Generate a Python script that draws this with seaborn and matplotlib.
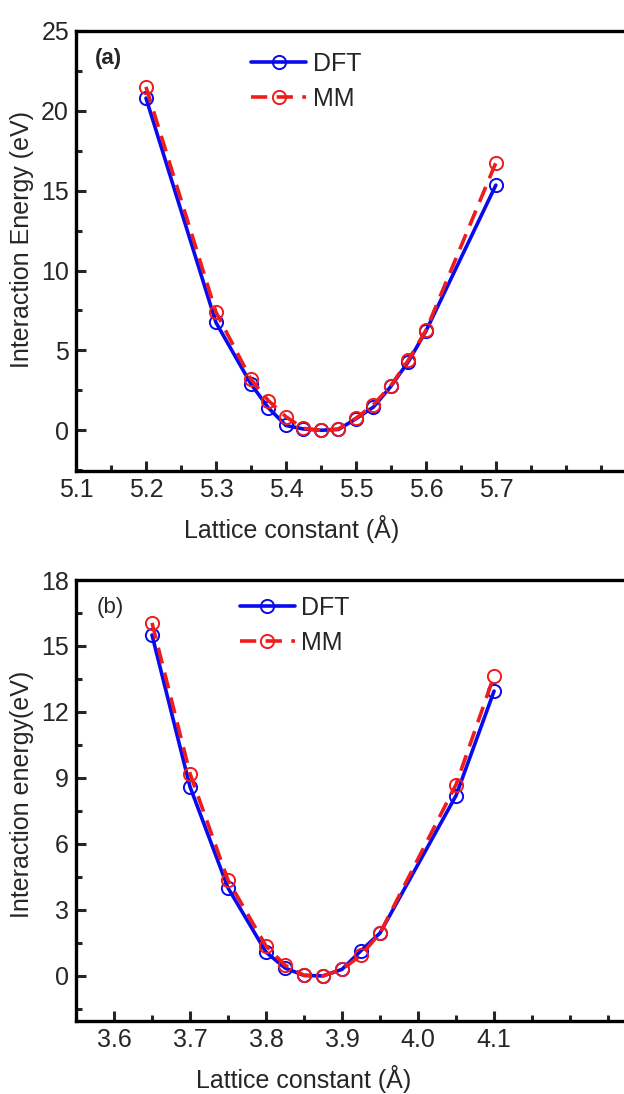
import numpy as np
import pandas as pd
import matplotlib
matplotlib.use("Agg")
import matplotlib.pyplot as plt
from matplotlib.ticker import MultipleLocator
import seaborn as sns

# Panel (a): lattice constant scan
lat_a = [5.2, 5.3, 5.35, 5.375, 5.4, 5.425, 5.45, 5.475, 5.5, 5.525, 5.55, 5.575, 5.6, 5.7]
dft_a = [20.8, 6.75, 2.9, 1.4, 0.3, 0.08, 0.0, 0.05, 0.72, 1.45, 2.75, 4.3, 6.2, 15.35]
mm_a = [21.5, 7.4, 3.2, 1.85, 0.85, 0.12, 0.0, 0.08, 0.75, 1.6, 2.8, 4.4, 6.25, 16.75]

# Panel (b): lattice constant scan
lat_b = [3.65, 3.7, 3.75, 3.8, 3.825, 3.85, 3.875, 3.9, 3.925, 3.95, 4.05, 4.1]
dft_b = [15.5, 8.6, 4.0, 1.08, 0.36, 0.02, 0.0, 0.3, 1.15, 1.95, 8.2, 12.95]
mm_b = [16.05, 9.2, 4.35, 1.36, 0.49, 0.03, 0.0, 0.3, 0.94, 1.95, 8.7, 13.65]

xticks_a = ["5.1", "5.2", "5.3", "5.4", "5.5", "5.6", "5.7"]
xticks_b = ["3.6", "3.7", "3.8", "3.9", "4.0", "4.1"]
series_names = ["DFT", "MM"]
BLUE = "#0a0aee"
RED = "#ee1c1c"

sns.set_style("ticks")
plt.rcParams["font.family"] = ["Liberation Sans", "DejaVu Sans"]
plt.rcParams["axes.linewidth"] = 2.2
FS = 18

fig = plt.figure(figsize=(6.24, 10.94), dpi=100)
W, H = 624, 1094
ax_a = fig.add_axes([76 / W, (H - 471) / H, 564 / W, 440 / H])
ax_b = fig.add_axes([76 / W, (H - 1021) / H, 564 / W, 441 / H])


def draw(ax, x, dft, mm):
    sns.lineplot(x=x, y=dft, ax=ax, color=BLUE, linewidth=2.6, marker="o",
                 markersize=9.5, markerfacecolor="none", markeredgecolor=BLUE,
                 markeredgewidth=1.4, label=series_names[0], sort=False,
                 estimator=None)
    sns.lineplot(x=x, y=mm, ax=ax, color=RED, linewidth=2.6, marker="o",
                 markersize=9.5, markerfacecolor="none", markeredgecolor=RED,
                 markeredgewidth=1.4, label=series_names[1], sort=False,
                 estimator=None, dashes=False)
    ax.lines[1].set_dashes((4.5, 2.6))


def style(ax, xlim, ylim, xmaj, xmin, ymaj, ymin, ylabel, xl_pos, yl_pos):
    ax.set_xlim(*xlim)
    ax.set_ylim(*ylim)
    ax.xaxis.set_major_locator(MultipleLocator(xmaj))
    ax.xaxis.set_minor_locator(MultipleLocator(xmin))
    ax.yaxis.set_major_locator(MultipleLocator(ymaj))
    ax.yaxis.set_minor_locator(MultipleLocator(ymin))
    ax.tick_params(which="both", direction="in", width=2.2, labelsize=FS,
                   top=False, right=False, pad=5)
    ax.tick_params(which="major", length=7)
    ax.tick_params(which="minor", length=4)
    ax.set_xlabel("Lattice constant (Å)", fontsize=FS)
    ax.set_ylabel(ylabel, fontsize=FS)
    ax.xaxis.set_label_coords(*xl_pos)
    ax.yaxis.set_label_coords(*yl_pos)
    for s in ax.spines.values():
        s.set_visible(True)
        s.set_linewidth(2.4)
        s.set_color("black")


def legend(ax, anchor):
    ax.legend(loc="upper left", bbox_to_anchor=anchor, frameon=False,
              fontsize=FS, handlelength=2.2, handletextpad=0.25,
              labelspacing=0.42, borderaxespad=0)


draw(ax_a, lat_a, dft_a, mm_a)
style(ax_a, (5.1, 5.906), (-2.55, 25), 0.1, 0.05, 5, 2.5,
      "Interaction Energy (eV)", (0.383, -0.1), (-0.074, 0.525))
ax_a.set_xticks([float(t) for t in xticks_a])
ax_a.set_xticklabels(xticks_a)
ax_a.text(0.033, 0.962, "(a)", transform=ax_a.transAxes, fontsize=16,
          fontweight="bold", va="top", ha="left")
legend(ax_a, (0.293, 0.975))

draw(ax_b, lat_b, dft_b, mm_b)
style(ax_b, (3.55, 4.292), (-2.05, 18), 0.1, 0.05, 3, 1.5,
      "Interaction energy(eV)", (0.404, -0.1), (-0.074, 0.515))
ax_b.set_xticks([float(t) for t in xticks_b])
ax_b.set_xticklabels(xticks_b)
ax_b.text(0.036, 0.962, "(b)", transform=ax_b.transAxes, fontsize=16,
          va="top", ha="left")
legend(ax_b, (0.273, 0.986))

fig.savefig("out.png", dpi=100)
